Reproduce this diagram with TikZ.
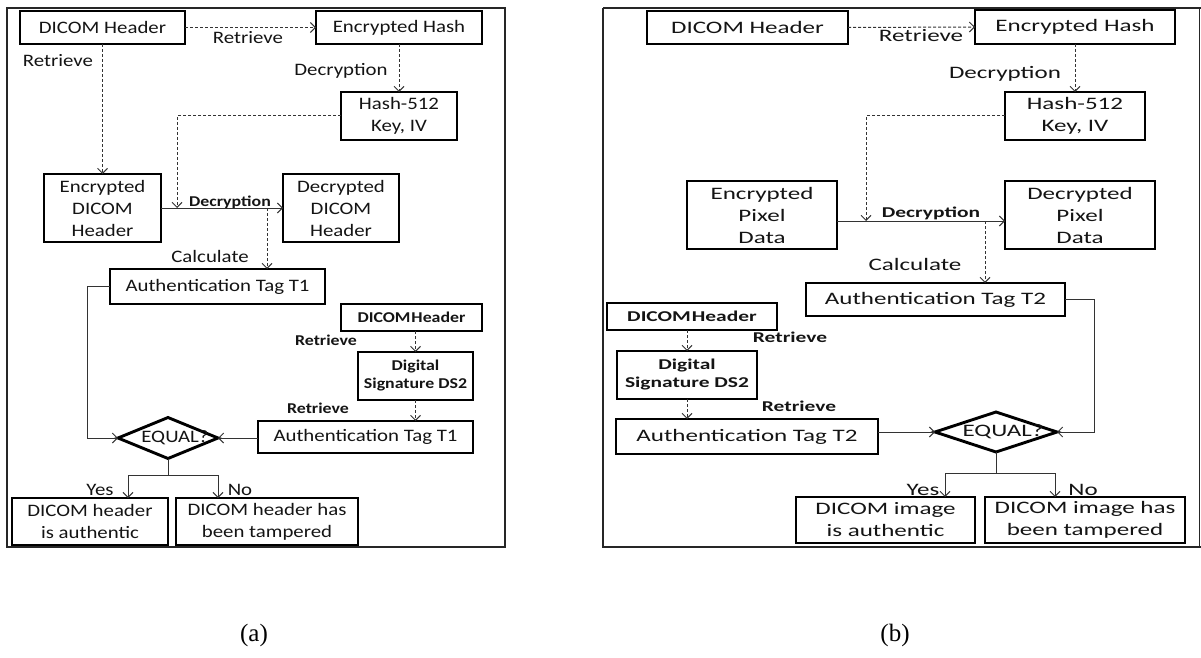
\documentclass[tikz,border=0pt]{standalone}
\usepackage{fontspec}
\usetikzlibrary{arrows.meta,shapes.geometric}
\setmainfont{Liberation Serif}
% widened Calibri-metric faces for the two panels
\newfontfamily\fonta[FakeStretch=1.19]{Carlito}
\newfontfamily\fontb[FakeStretch=1.43]{Carlito}

\begin{document}
\begin{tikzpicture}[x=1pt,y=-1pt,
  every node/.style={inner sep=0pt, outer sep=0pt, text=black!92},
  box/.style 2 args={draw=black, line width=2.9pt, align=center,
    minimum width=#1, minimum height=#2},
  thinbox/.style={line width=2.2pt},
  decide/.style 2 args={diamond, draw=black, line width=2.9pt,
    minimum width=#1, minimum height=#2},
  fa/.style={font=\fonta\fontsize{17.5}{22}\selectfont},
  fab/.style={font=\fonta\bfseries\fontsize{15}{18}\selectfont},
  fb/.style={font=\fontb\fontsize{17.5}{22}\selectfont},
  fbb/.style={font=\fontb\bfseries\fontsize{15}{18}\selectfont},
  link/.style={draw=black!80, line width=1pt},
  conn/.style={link, -{Straight Barb[length=5pt,width=10pt]}},
  dconn/.style={conn, dash pattern=on 3pt off 2pt},
  frame/.style={draw=black!85, line width=1.4pt},
  captext/.style={font=\fontsize{25}{30}\selectfont, text=black}]

\useasboundingbox (0,0) rectangle (1201,658);

% ---------------- panel (a): header check ----------------
\draw[frame] (7,8) rectangle (505,547);

\node[box={165}{33}, fa] (hdrA) at (102.5,27.5) {DICOM Header};
\node[box={166}{33}, fa] (ehA)  at (399,27.5)   {Encrypted Hash};
\node[box={116}{48}, fa] (hkA)  at (399,116)    {Hash-512\\Key, IV};
\node[box={117}{68}, fa] (edhA) at (102.5,208)  {Encrypted\\DICOM\\Header};
\node[box={116}{68}, fa] (ddhA) at (341,208)    {Decrypted\\DICOM\\Header};
\node[box={215}{35}, fa] (atA)  at (217.5,286.5) {Authentication Tag T1};
\node[box={141}{27}, thinbox, fab] (shA) at (411.5,317.5) {DICOM\kern1pt Header};
\node[box={115}{48}, fab] (dsA) at (415.5,376)  {Digital\\Signature DS2};
\node[box={215}{32}, fa] (at2A) at (365.5,437)  {Authentication Tag T1};
\node[decide={100}{41}, label={[fa, xshift=7pt]center:EQUAL?}] (eqA) at (168,438) {};
\node[box={156}{47}, fa] (yesA) at (90,521.5)   {DICOM header\\is authentic};
\node[box={182}{47}, fa] (noA)  at (267,521.5)  {DICOM header has\\been tampered};

\node[fa]  (l1A) at (248,38)  {Retrieve};
\node[fa]  (l2A) at (58,61)   {Retrieve};
\node[fa]  (l3A) at (341,71)  {Decryption};
\node[fab] (l4A) at (230,202) {Decryption};
\node[fa]  (l5A) at (210,256) {Calculate};
\node[fab] (l6A) at (326,340) {Retrieve};
\node[fab] (l7A) at (318,408) {Retrieve};
\node[fa]  (l8A) at (100,490) {Yes};
\node[fa]  (l9A) at (240,490) {No};

\coordinate (kA) at (177,208);
\coordinate (cA) at (267,208);
\coordinate (jA) at (168,475);

\draw[dconn] (hdrA.east) -- (ehA.west);
\draw[dconn] (hdrA.south) -- (edhA.north);
\draw[dconn] (ehA.south) -- (hkA.north);
\draw[dconn] (hkA.west) -| (kA);
\draw[conn]  (edhA.east) -- (ddhA.west);
\draw[dconn] (cA) -- (cA |- atA.north);
\draw[conn]  (atA.west) -- ++(-23,0) |- (eqA.west);
\draw[dconn] (shA.south -| dsA.north) -- (dsA.north);
\draw[dconn] (dsA.south) -- (dsA.south |- at2A.north);
\draw[conn]  (eqA.east -| at2A.west) -- (eqA.east);
\draw[link]  (eqA.south) -- (jA);
\draw[conn]  (jA) -| (128,0 |- yesA.north);
\draw[conn]  (jA) -| (218,0 |- noA.north);

% ---------------- panel (b): image check ----------------
\draw[frame] (603,8) -- (1201,8) (603,8) -- (603,547) -- (1201,547) (1199.5,8) -- (1199.5,547);

\node[box={201}{33}, fb] (hdrB) at (747.5,27.5) {DICOM Header};
\node[box={200}{34}, fb] (ehB)  at (1075,27)    {Encrypted Hash};
\node[box={140}{48}, fb] (hkB)  at (1075,116)   {Hash-512\\Key, IV};
\node[box={150}{68}, fb] (epB)  at (762,215)    {Encrypted\\Pixel\\Data};
\node[box={150}{68}, fb] (dpB)  at (1080,215)   {Decrypted\\Pixel\\Data};
\node[box={259}{33}, fb] (atB)  at (935.5,299.5) {Authentication Tag T2};
\node[box={170}{27}, thinbox, fbb] (shB) at (692,316.5) {DICOM\kern1pt Header};
\node[box={140}{48}, fbb] (dsB) at (687,375)    {Digital\\Signature DS2};
\node[box={262}{35}, fb] (at2B) at (747,436.5)  {Authentication Tag T2};
\node[decide={122}{40}, label={[fb, xshift=7pt]center:EQUAL?}] (eqB) at (996,432) {};
\node[box={179}{46}, fb] (yesB) at (885.5,520)  {DICOM image\\is authentic};
\node[box={200}{46}, fb] (noB)  at (1085,520)   {DICOM image has\\been tampered};

\node[fb]  (l1B) at (921,36)   {Retrieve};
\node[fb]  (l3B) at (1005,74)  {Decryption};
\node[fbb] (l4B) at (931,213)  {Decryption};
\node[fb]  (l5B) at (915,264)  {Calculate};
\node[fbb] (l6B) at (790,337)  {Retrieve};
\node[fbb] (l7B) at (799,406)  {Retrieve};
\node[fb]  (l8B) at (923,490)  {Yes};
\node[fb]  (l9B) at (1083,490) {No};

\coordinate (kB) at (866,221);
\coordinate (cB) at (985,221);
\coordinate (jB) at (996,473);

\draw[dconn] (hdrB.east) -- (ehB.west);
\draw[dconn] (ehB.south) -- (hkB.north);
\draw[dconn] (hkB.west) -| (kB);
\draw[conn]  (kB -| epB.east) -- (kB -| dpB.west);
\draw[dconn] (cB) -- (cB |- atB.north);
\draw[conn]  (atB.east) -- ++(29,0) |- (eqB.east);
\draw[conn]  (eqB.west -| at2B.east) -- (eqB.west);
\draw[dconn] (shB.south -| dsB.north) -- (dsB.north);
\draw[dconn] (dsB.south) -- (dsB.south |- at2B.north);
\draw[link]  (eqB.south) -- (jB);
\draw[conn]  (jB) -| (945,0 |- yesB.north);
\draw[conn]  (jB) -| (1055,0 |- noB.north);

% ---------------- captions ----------------
\node[captext] (capA) at (254,635) {(a)};
\node[captext] (capB) at (895,635) {(b)};
\end{tikzpicture}
\end{document}
